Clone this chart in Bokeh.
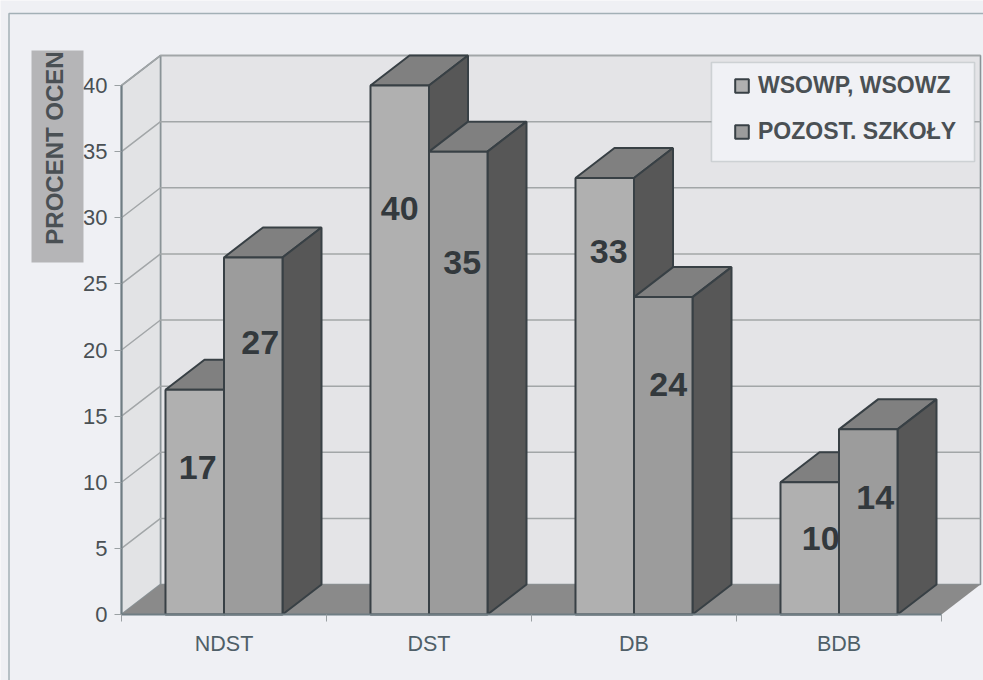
from bokeh.plotting import figure
from bokeh.embed import file_html
from bokeh.resources import INLINE
from bokeh.core.properties import value
from bokeh.models import (Range1d, LinearAxis, FixedTicker, Label, Legend, LegendItem, BoxAnnotation)

categories = ["NDST", "DST", "DB", "BDB"]
wsowp = [17, 40, 33, 10]
pozost = [27, 35, 24, 14]
series_names = ["WSOWP, WSOWZ", "POZOST. SZKOŁY"]
y_ticks = [0, 5, 10, 15, 20, 25, 30, 35, 40]
y_title = "PROCENT OCEN"

# label nudges, in pixels from the top centre of each bar
wsowp_dx, wsowp_dy = [3, 0, 4, 11], [78, 123, 73, 56]
pozost_dx, pozost_dy = [7, 4, 5, 7], [85, 111, 87, 68]

PX_X = 205.0      # pixels per category
PX_Y = 13.225     # pixels per percent
DX = 39 / PX_X    # depth of the 3D box, in category units
DY = 30 / PX_Y    # depth of the 3D box, in percent units
BAR_START = 0.2146
BAR_W = 0.2854

W, H = 983, 680
ORIGIN_X, ORIGIN_Y = 121, 614   # where category 0 / 0 percent sit on the canvas

BG = "#eff0f4"
TXT = "#4a5054"
EDGE = "#384045"
FRONT = ["#b0b0b0", "#9c9c9c"]
TOP = "#808080"
SIDE = "#575757"
GRID = "#a2a6a8"
WALL = "#e4e4e7"
SIDEWALL = "#e2e3e5"
FLOOR = "#8a8a8a"


def cx(px):
    return (px - ORIGIN_X) / PX_X


def cy(py):
    return (ORIGIN_Y - py) / PX_Y


xmin, xmax = cx(0), cx(W)
ymin, ymax = cy(H), cy(0)

p = figure(width=W, height=H, output_backend="svg", toolbar_location=None,
           x_range=Range1d(xmin, xmax), y_range=Range1d(ymin, ymax),
           x_axis_type=None, y_axis_type=None,
           min_border_left=0, min_border_bottom=0, min_border_top=0, min_border_right=0,
           background_fill_color=BG, border_fill_color=BG, outline_line_color=None)
p.grid.visible = False

n = len(categories)
top_y = max(y_ticks)

# outer frame of the page
p.line([cx(8.5), cx(8.5), xmax + 1], [ymin - 1, cy(13), cy(13)], line_color="#a3b0b6", line_width=1.5)

# walls and floor
p.patch([DX, DX + n, DX + n, DX], [DY, DY, top_y + DY, top_y + DY],
        fill_color=WALL, line_color="#8a9397", line_width=1.6)
p.patch([0, DX, DX, 0], [0, DY, top_y + DY, top_y],
        fill_color=SIDEWALL, line_color="#8a9397", line_width=1.6)
p.patch([0, n, n + DX, DX], [0, 0, DY, DY], fill_color=FLOOR, line_color=None)

# grid lines across the side wall and the back wall
grid_xs = [[0, DX, DX + n] for t in y_ticks[1:]]
grid_ys = [[t, t + DY, t + DY] for t in y_ticks[1:]]
p.multi_line(grid_xs, grid_ys, line_color=GRID, line_width=1.5)

legend_refs = [None, None]
for i in range(n):
    for s, vals in enumerate((wsowp, pozost)):
        v = vals[i]
        x0 = i + BAR_START + s * BAR_W
        x1 = x0 + BAR_W
        p.patch([x0, x1, x1 + DX, x0 + DX], [v, v, v + DY, v + DY],
                fill_color=TOP, line_color=EDGE, line_width=2)
        p.patch([x1, x1 + DX, x1 + DX, x1], [0, DY, v + DY, v],
                fill_color=SIDE, line_color=EDGE, line_width=2)
        r = p.vbar(x=[(x0 + x1) / 2], top=[v], bottom=[0], width=BAR_W,
                   fill_color=FRONT[s], line_color=EDGE, line_width=2)
        if legend_refs[s] is None:
            legend_refs[s] = r

# data labels
for s, (vals, dxs, dys) in enumerate(((wsowp, wsowp_dx, wsowp_dy), (pozost, pozost_dx, pozost_dy))):
    p.text(x=[i + BAR_START + (s + 0.5) * BAR_W for i in range(n)], y=vals,
           text=[str(v) for v in vals], x_offset=dxs, y_offset=dys,
           text_font=value("Liberation Sans"), text_font_style="bold",
           text_font_size="34px", text_color="#33393d",
           text_align="center", text_baseline="middle")

# axes
yax = LinearAxis(ticker=FixedTicker(ticks=y_ticks), fixed_location=0, bounds=(0, top_y))
yax.axis_line_color = "#6f7d83"
yax.axis_line_width = 2
yax.major_tick_line_color = "#9aa0a3"
yax.major_tick_in = 0
yax.major_tick_out = 7
yax.minor_tick_line_color = None
yax.major_label_standoff = 7
yax.major_label_text_font = "Liberation Sans"
yax.major_label_text_font_size = "22px"
yax.major_label_text_color = TXT
p.add_layout(yax, "left")

xax = LinearAxis(ticker=FixedTicker(ticks=[i + 0.5 for i in range(n)],
                                    minor_ticks=list(range(n + 1))),
                 fixed_location=0, bounds=(0, n))
xax.major_label_overrides = {i + 0.5: c for i, c in enumerate(categories)}
xax.axis_line_color = "#6f7d83"
xax.axis_line_width = 2
xax.major_tick_line_color = None
xax.major_tick_out = 0
xax.major_tick_in = 0
xax.minor_tick_line_color = "#9aa0a3"
xax.minor_tick_out = 7
xax.minor_tick_in = 0
xax.major_label_standoff = 10
xax.major_label_text_font = "Liberation Sans"
xax.major_label_text_font_size = "21.5px"
xax.major_label_text_color = "#4f5f68"
p.add_layout(xax, "below")

# axis title on its grey box, which hides the left of the top tick labels
p.add_layout(BoxAnnotation(left=cx(31), right=cx(83), top=cy(50), bottom=cy(262),
                           fill_color="#b5b5b7", fill_alpha=1, line_color=None, level="overlay"))
p.add_layout(Label(x=cx(54), y=cy(147.5), text=y_title, angle=90,
                   angle_units="deg", text_align="center", text_baseline="middle",
                   text_font="Liberation Sans", text_font_size="24px", text_font_style="bold",
                   text_color=TXT, level="overlay"))

# legend box, with the legend itself laid over it
p.add_layout(BoxAnnotation(left=cx(711), right=cx(974), top=cy(62), bottom=cy(161),
                           fill_color="#f0f1f5", fill_alpha=1,
                           line_color="#8b9599", line_width=1.6))
legend = Legend(items=[LegendItem(label=series_names[k], renderers=[legend_refs[k]]) for k in range(2)],
                location=(733, 535), orientation="vertical", margin=0, padding=13, spacing=19,
                glyph_width=17, glyph_height=17, label_standoff=8,
                label_text_font="Liberation Sans", label_text_font_size="23px",
                label_text_font_style="bold", label_text_color=TXT,
                background_fill_alpha=0, border_line_color=None)
p.add_layout(legend, "center")

open("out.html", "w").write(file_html(p, INLINE))
